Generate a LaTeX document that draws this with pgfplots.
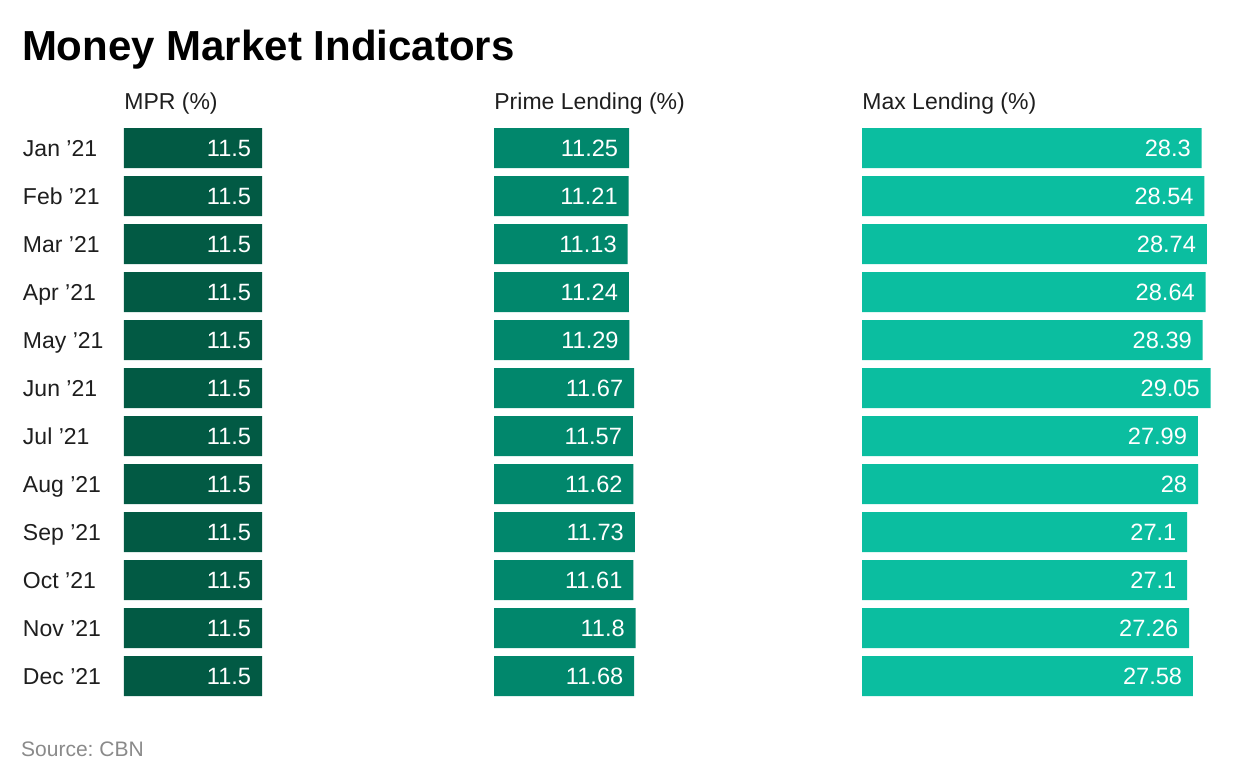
\documentclass[border=0pt]{standalone}
\usepackage{pgfplots}
\pgfplotsset{compat=1.18}
\usepackage{pgfplotstable}
\usepackage{fontspec}
\setmainfont{Liberation Sans}
\frenchspacing

\definecolor{mprcol}{HTML}{025A44}
\definecolor{primecol}{HTML}{01876C}
\definecolor{maxcol}{HTML}{0BBEA0}
\definecolor{srcgray}{HTML}{8A8A8A}
\definecolor{labtext}{HTML}{1E1E1E}

% row: 0 = Jan '21 ... 11 = Dec '21
\pgfplotstableread{
row mpr prime maxl
0  11.5 11.25 28.3
1  11.5 11.21 28.54
2  11.5 11.13 28.74
3  11.5 11.24 28.64
4  11.5 11.29 28.39
5  11.5 11.67 29.05
6  11.5 11.57 27.99
7  11.5 11.62 28
8  11.5 11.73 27.1
9  11.5 11.61 27.1
10 11.5 11.8  27.26
11 11.5 11.68 27.58
}\rates

\pgfplotsset{
  mmcol/.style={
    scale only axis, width=180pt, height=288pt,
    xmin=0, xmax=30, ymin=-0.5, ymax=11.5, y dir=reverse,
    xbar, bar width=20pt,
    axis line style={draw=none}, tick style={draw=none}, major tick length=0pt,
    xtick=\empty, ytick=\empty,
    point meta=x,
    nodes near coords={\pgfmathprintnumber[fixed,precision=2]{\pgfplotspointmeta}},
    nodes near coords style={anchor=base east, xshift=-5.25pt, yshift=-4.2pt,
      inner sep=0pt, text=white, font=\fontsize{11.8}{14}\selectfont},
    /pgf/number format/assume math mode=true,
    every axis title shift=0pt,
    title style={at={(0,1)}, anchor=base west, yshift=7.5pt, inner sep=0pt,
      text=labtext, font=\fontsize{11.5}{14}\selectfont},
    clip=false,
  }
}

\begin{document}
\begin{tikzpicture}
\path[use as bounding box] (0,0) rectangle (620pt,-391pt);
\node[anchor=base west, inner sep=0pt, font=\bfseries\fontsize{21}{25}\selectfont]
  at (10.8pt,-30pt) {Money Market Indicators};

\begin{axis}[mmcol, at={(62pt,-62pt)}, anchor=north west, title={MPR (\%)},
  ytick={0,...,11},
  yticklabels={Jan ’21,Feb ’21,Mar ’21,Apr ’21,May ’21,Jun ’21,Jul ’21,Aug ’21,Sep ’21,Oct ’21,Nov ’21,Dec ’21},
  yticklabel style={anchor=base west, xshift=-50.7pt, yshift=-4.35pt, inner sep=0pt,
    text=labtext, font=\fontsize{11.5}{14}\selectfont}]
\addplot[fill=mprcol, draw=none] table[x=mpr, y=row]{\rates};
\end{axis}

\begin{axis}[mmcol, at={(247pt,-62pt)}, anchor=north west, title={Prime Lending (\%)}]
\addplot[fill=primecol, draw=none] table[x=prime, y=row]{\rates};
\end{axis}

\begin{axis}[mmcol, at={(431pt,-62pt)}, anchor=north west, title={Max Lending (\%)}]
\addplot[fill=maxcol, draw=none] table[x=maxl, y=row]{\rates};
\end{axis}

\node[anchor=base west, inner sep=0pt, text=srcgray, font=\fontsize{10.5}{13}\selectfont]
  at (10.4pt,-378.3pt) {Source: CBN};
\end{tikzpicture}
\end{document}
